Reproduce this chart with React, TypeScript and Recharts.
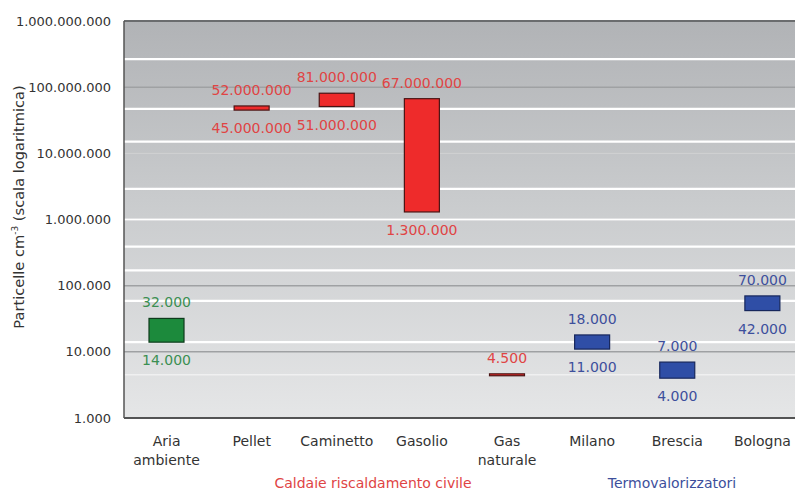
import { BarChart, Bar, XAxis, YAxis, CartesianGrid, ReferenceLine } from "recharts"

const categories = ["Aria\nambiente", "Pellet", "Caminetto", "Gasolio", "Gas\nnaturale", "Milano", "Brescia", "Bologna"]
const groups = ["aria", "caldaie", "caldaie", "caldaie", "caldaie", "termo", "termo", "termo"]
const lows = [14000, 45000000, 51000000, 1300000, 4350, 11000, 4000, 42000]
const highs = [32000, 52000000, 81000000, 67000000, 4650, 18000, 7000, 70000]
const topLabels = [32000, 52000000, 81000000, 67000000, 4500, 18000, 7000, 70000]
const bottomLabels: (number | null)[] = [14000, 45000000, 51000000, 1300000, null, 11000, 4000, 42000]

const yTicks = [1000, 10000, 100000, 1000000, 10000000, 100000000, 1000000000]
const whiteLines = [265e6, 100e6, 47e6, 26e6, 15e6, 6e6, 4.3e6, 2.9e6, 1.8e6, 1.3e6, 1e6, 590e3, 390e3, 240e3, 170e3, 59e3, 30e3, 14e3]
const faintLines = [10e6, 4.5e3]

const colors: Record<string, { fill: string; stroke: string; text: string }> = {
  aria: { fill: "#1c8a3c", stroke: "#0e3a1c", text: "#3b8f52" },
  caldaie: { fill: "#ee2b2b", stroke: "#4a1414", text: "#e04444" },
  termo: { fill: "#2f4ea6", stroke: "#17275c", text: "#3d4f9c" },
}

const data = categories.map((name, i) => ({
  name,
  group: groups[i],
  range: [lows[i], highs[i]],
  top: topLabels[i],
  bottom: bottomLabels[i],
}))

const fmt = (v: number) => String(Math.round(v)).replace(/\B(?=(\d{3})+(?!\d))/g, ".")

const FONT = "DejaVu Sans, Verdana, sans-serif"

function RangeShape(props: any) {
  const { x, width, payload } = props
  const y = Math.min(props.y, props.y + props.height)
  const h = Math.abs(props.height)
  const c = colors[payload.group]
  const cx = x + width / 2
  return (
    <g>
      <rect x={x} y={y} width={width} height={h} fill={c.fill} stroke={c.stroke} strokeWidth={1.2} />
      <text x={cx} y={y - 16} textAnchor="middle" dominantBaseline="central" fill={c.text} fontSize={14} fontFamily={FONT}>
        {fmt(payload.top)}
      </text>
      {payload.bottom != null && (
        <text x={cx} y={y + h + 18} textAnchor="middle" dominantBaseline="central" fill={c.text} fontSize={14} fontFamily={FONT}>
          {fmt(payload.bottom)}
        </text>
      )}
    </g>
  )
}

function CategoryTick(props: any) {
  const { x, y, payload } = props
  const lines = String(payload.value).split("\n")
  return (
    <text x={x} y={y} textAnchor="middle" fill="#333" fontSize={14} fontFamily={FONT}>
      {lines.map((l, i) => (
        <tspan key={i} x={x} dy={i === 0 ? 20 : 19}>
          {l}
        </tspan>
      ))}
    </text>
  )
}

export default function App() {
  return (
    <div style={{ position: "fixed", left: 0, top: 0, width: 795, height: 491, overflow: "hidden", background: "#fff", fontFamily: FONT }}>
      <svg width={0} height={0} style={{ position: "absolute" }}>
        <defs>
          <linearGradient id="plotBg" x1="0" y1="0" x2="0" y2="1">
            <stop offset="0%" stopColor="#b1b3b6" />
            <stop offset="45%" stopColor="#c9cbcd" />
            <stop offset="100%" stopColor="#e5e6e7" />
          </linearGradient>
        </defs>
      </svg>
      <BarChart width={806} height={491} data={data} margin={{ top: 21, right: 1, bottom: 43, left: 0 }} barSize={35}>
        <CartesianGrid vertical={false} stroke="#9fa1a3" strokeWidth={1.5} fill="url(#plotBg)" fillOpacity={1} />
        <CartesianGrid vertical={false} horizontalValues={whiteLines} stroke="#ffffff" strokeWidth={2.2} />
        <CartesianGrid vertical={false} horizontalValues={faintLines} stroke="#ffffff" strokeOpacity={0.5} strokeWidth={1.5} />
        <ReferenceLine y={1e9} stroke="#6a6c6e" strokeWidth={2} />
        <XAxis
          dataKey="name"
          interval={0}
          height={30}
          tick={<CategoryTick />}
          tickLine={false}
          axisLine={{ stroke: "#333", strokeWidth: 1.5 }}
        />
        <YAxis
          scale="log"
          domain={[1000, 1000000000]}
          ticks={yTicks}
          allowDataOverflow
          width={124}
          tickSize={0}
          tickMargin={13}
          tickFormatter={fmt}
          tick={{ fill: "#333", fontSize: 13, fontFamily: FONT }}
          axisLine={{ stroke: "#555", strokeWidth: 1.5 }}
        />
        <Bar dataKey="range" shape={<RangeShape />} isAnimationActive={false} />
      </BarChart>
      <div
        style={{
          position: "absolute",
          left: 18,
          top: 207,
          transform: "translate(-50%, -50%) rotate(-90deg)",
          whiteSpace: "nowrap",
          fontSize: 14.6,
          color: "#333",
        }}
      >
        Particelle cm<sup style={{ fontSize: 9 }}>-3</sup> (scala logaritmica)
      </div>
      <div style={{ position: "absolute", left: 373, top: 483, transform: "translate(-50%, -50%)", whiteSpace: "nowrap", fontSize: 14, color: "#e04444" }}>
        Caldaie riscaldamento civile
      </div>
      <div style={{ position: "absolute", left: 672, top: 483, transform: "translate(-50%, -50%)", whiteSpace: "nowrap", fontSize: 14, color: "#3d4f9c" }}>
        Termovalorizzatori
      </div>
    </div>
  )
}
